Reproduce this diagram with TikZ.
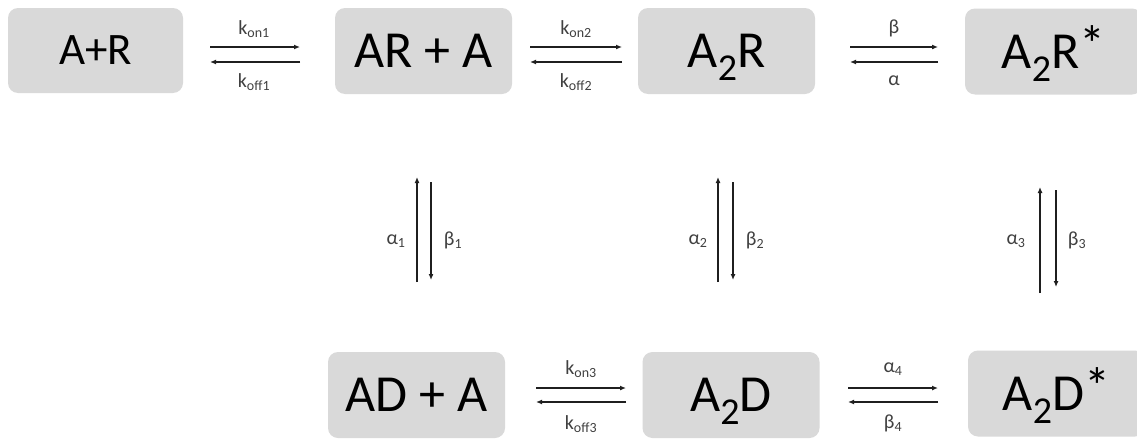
\documentclass[tikz,border=0pt]{standalone}
\usepackage{fontspec}
\setmainfont{Carlito}
\usetikzlibrary{arrows.meta}
\definecolor{boxgray}{HTML}{D9D9D9}
\definecolor{linegray}{HTML}{1F1F1F}
\definecolor{labelgray}{HTML}{404040}
\newcommand\bigsub[1]{\smash{\raisebox{-13pt}{\fontsize{38}{38}\selectfont #1}}}
\newcommand\bigstar{\smash{\raisebox{6pt}{*}}}
\tikzset{
  species/.style={fill=boxgray, rounded corners=10pt, minimum width=177pt, minimum height=86pt, inner sep=0pt, text=black},
  bigtxt/.style={font=\fontsize{52}{52}\selectfont},
  smalltxt/.style={font=\fontsize{45}{45}\selectfont},
  rate/.style={line width=1.8pt, draw=linegray, -{Latex[length=6pt,width=5pt]}},
  ratelbl/.style={text=labelgray, font=\fontsize{20}{20}\selectfont, inner sep=0pt}
}
\begin{document}
\begin{tikzpicture}[x=1pt,y=-1pt]
\clip (0,0) rectangle (1137,439);
\fill[white] (0,0) rectangle (1137,439);
% species boxes
\node[species, smalltxt, minimum width=175pt, minimum height=85pt] (ar0) at (95.5,50.5) {A+R};
\node[species, bigtxt] (ar1) at (423.5,51) {AR + A};
\node[species, bigtxt] (a2r) at (726.5,51) {A\bigsub{2}R};
\node[species, bigtxt] (a2rs) at (1053.5,51.5) {A\bigsub{2}R\bigstar};
\node[species, bigtxt] (ad) at (416.5,395) {AD + A};
\node[species, bigtxt] (a2d) at (731,395) {A\bigsub{2}D};
\node[species, bigtxt] (a2ds) at (1056.5,393.5) {A\bigsub{2}D\bigstar};
% horizontal arrow endpoints
\coordinate (h1a) at (210,47); \coordinate (h1b) at (300,47);
\coordinate (h1c) at (300,62); \coordinate (h1d) at (210,62);
\coordinate (h2a) at (530,47); \coordinate (h2b) at (622,47);
\coordinate (h2c) at (622,62); \coordinate (h2d) at (530,62);
\coordinate (h3a) at (850,47); \coordinate (h3b) at (938,47);
\coordinate (h3c) at (938,62); \coordinate (h3d) at (850,62);
\coordinate (h4a) at (536,388); \coordinate (h4b) at (626,388);
\coordinate (h4c) at (626,402); \coordinate (h4d) at (536,402);
\coordinate (h5a) at (848,388); \coordinate (h5b) at (938,388);
\coordinate (h5c) at (938,402); \coordinate (h5d) at (848,402);
% vertical arrow endpoints
\coordinate (v1a) at (417,282); \coordinate (v1b) at (417,177);
\coordinate (v1c) at (431,182); \coordinate (v1d) at (431,280);
\coordinate (v2a) at (718,282); \coordinate (v2b) at (718,177);
\coordinate (v2c) at (733,182); \coordinate (v2d) at (733,280);
\coordinate (v3a) at (1040,293); \coordinate (v3b) at (1040,187);
\coordinate (v3c) at (1056,190); \coordinate (v3d) at (1056,287);
% arrows
\draw[rate] (h1a) -- (h1b); \draw[rate] (h1c) -- (h1d);
\draw[rate] (h2a) -- (h2b); \draw[rate] (h2c) -- (h2d);
\draw[rate] (h3a) -- (h3b); \draw[rate] (h3c) -- (h3d);
\draw[rate] (h4a) -- (h4b); \draw[rate] (h4c) -- (h4d);
\draw[rate] (h5a) -- (h5b); \draw[rate] (h5c) -- (h5d);
\draw[rate] (v1a) -- (v1b); \draw[rate] (v1c) -- (v1d);
\draw[rate] (v2a) -- (v2b); \draw[rate] (v2c) -- (v2d);
\draw[rate] (v3a) -- (v3b); \draw[rate] (v3c) -- (v3d);
% labels
\node[ratelbl] (l1) at (254,29) {k\textsubscript{on1}};
\node[ratelbl] (l2) at (254,82) {k\textsubscript{off1}};
\node[ratelbl] (l3) at (576,29) {k\textsubscript{on2}};
\node[ratelbl] (l4) at (576,82) {k\textsubscript{off2}};
\node[ratelbl] (l5) at (894,28) {β};
\node[ratelbl] (l6) at (894,81) {α};
\node[ratelbl] (l7) at (581,369) {k\textsubscript{on3}};
\node[ratelbl] (l8) at (581,424) {k\textsubscript{off3}};
\node[ratelbl] (l9) at (893,369) {α\textsubscript{4}};
\node[ratelbl] (l10) at (893,423) {β\textsubscript{4}};
\node[ratelbl] (l11) at (396,241) {α\textsubscript{1}};
\node[ratelbl] (l12) at (453,240) {β\textsubscript{1}};
\node[ratelbl] (l13) at (698,241) {α\textsubscript{2}};
\node[ratelbl] (l14) at (755,240) {β\textsubscript{2}};
\node[ratelbl] (l15) at (1016,241) {α\textsubscript{3}};
\node[ratelbl] (l16) at (1077,240) {β\textsubscript{3}};
\end{tikzpicture}
\end{document}
